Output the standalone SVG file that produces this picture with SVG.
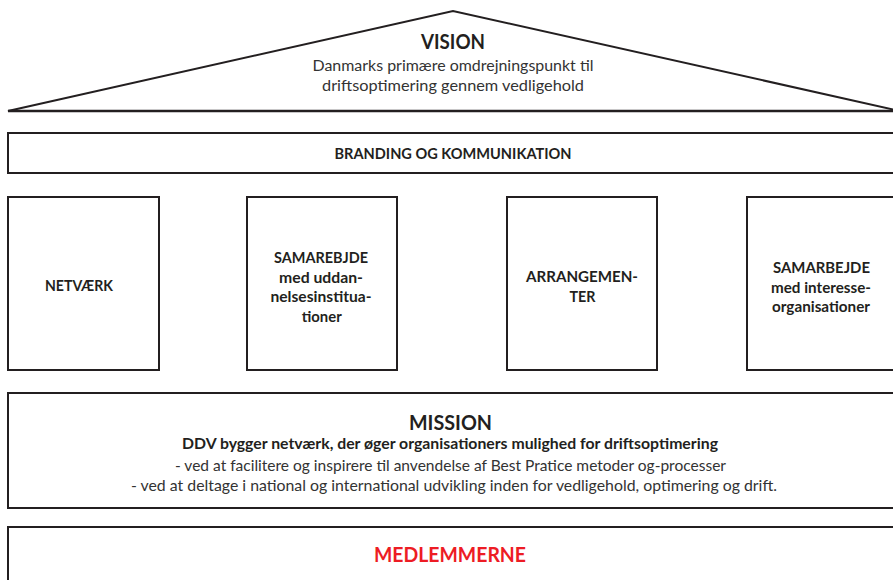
<svg xmlns="http://www.w3.org/2000/svg" width="893" height="580" viewBox="0 0 893 580">
<style>
.box{fill:#fff;stroke:#231f20;stroke-width:2}
.t{font-family:Lato,"Open Sans","Liberation Sans",sans-serif;fill:#231f20;text-anchor:middle}
.b{font-weight:bold}
.r{fill:#333333}
</style>
<rect width="893" height="580" fill="#fff"/>
<g id="vision">
<polygon points="8,111 453,11 900,111" fill="#fff" stroke="#231f20" stroke-width="2" stroke-linejoin="miter"/>
<line x1="8" y1="111" x2="893" y2="111" stroke="#231f20" stroke-width="2.5"/>
<text class="t b" x="453" y="49" font-size="21.5" textLength="64" lengthAdjust="spacingAndGlyphs">VISION</text>
<text class="t r" x="453" y="71" font-size="15.5" textLength="281" lengthAdjust="spacingAndGlyphs">Danmarks primære omdrejningspunkt til</text>
<text class="t r" x="453" y="91" font-size="15.5" textLength="262" lengthAdjust="spacingAndGlyphs">driftsoptimering gennem vedligehold</text>
</g>
<g id="branding">
<rect class="box" x="8" y="133" width="900" height="40"/>
<text class="t b" x="453" y="158.5" font-size="14.5" textLength="237" lengthAdjust="spacingAndGlyphs">BRANDING OG KOMMUNIKATION</text>
</g>
<g id="netvaerk">
<rect class="box" x="8" y="197" width="151" height="173"/>
<text class="t b" x="79" y="291" font-size="15" textLength="68" lengthAdjust="spacingAndGlyphs">NETVÆRK</text>
</g>
<g id="uddannelse">
<rect class="box" x="247" y="197" width="150" height="173"/>
<text class="t b" x="321" y="263" font-size="15" textLength="94" lengthAdjust="spacingAndGlyphs">SAMAREBJDE</text>
<text class="t b" x="321" y="282.5" font-size="15" textLength="84" lengthAdjust="spacingAndGlyphs">med uddan-</text>
<text class="t b" x="321" y="302" font-size="15" textLength="101" lengthAdjust="spacingAndGlyphs">nelsesinstitua-</text>
<text class="t b" x="321.7" y="321.7" font-size="15" textLength="40" lengthAdjust="spacingAndGlyphs">tioner</text>
</g>
<g id="arrangementer">
<rect class="box" x="507" y="197" width="150" height="173"/>
<text class="t b" x="582" y="282" font-size="15" textLength="112" lengthAdjust="spacingAndGlyphs">ARRANGEMEN-</text>
<text class="t b" x="582.5" y="302" font-size="15" textLength="26" lengthAdjust="spacingAndGlyphs">TER</text>
</g>
<g id="interesse">
<rect class="box" x="747" y="197" width="160" height="173"/>
<text class="t b" x="821.5" y="273" font-size="15" textLength="97" lengthAdjust="spacingAndGlyphs">SAMARBEJDE</text>
<text class="t b" x="821" y="292.5" font-size="15" textLength="100" lengthAdjust="spacingAndGlyphs">med interesse-</text>
<text class="t b" x="821" y="312" font-size="15" textLength="98" lengthAdjust="spacingAndGlyphs">organisationer</text>
</g>
<g id="mission">
<rect class="box" x="8" y="393" width="900" height="115"/>
<text class="t b" x="450.5" y="430" font-size="21" textLength="83" lengthAdjust="spacingAndGlyphs">MISSION</text>
<text class="t b" x="450" y="448.5" font-size="15" textLength="536" lengthAdjust="spacingAndGlyphs">DDV bygger netværk, der øger organisationers mulighed for driftsoptimering</text>
<text class="t r" x="450.5" y="470.5" font-size="15" textLength="551" lengthAdjust="spacingAndGlyphs">- ved at facilitere og inspirere til anvendelse af Best Pratice metoder og-processer</text>
<text class="t r" x="454" y="490.5" font-size="15" textLength="646" lengthAdjust="spacingAndGlyphs">- ved at deltage i national og international udvikling inden for vedligehold, optimering og drift.</text>
</g>
<g id="medlemmerne">
<rect class="box" x="8" y="527" width="900" height="80"/>
<text class="t b" x="450" y="562" font-size="20" textLength="152" lengthAdjust="spacingAndGlyphs" style="fill:#ed1c24">MEDLEMMERNE</text>
</g>
</svg>
